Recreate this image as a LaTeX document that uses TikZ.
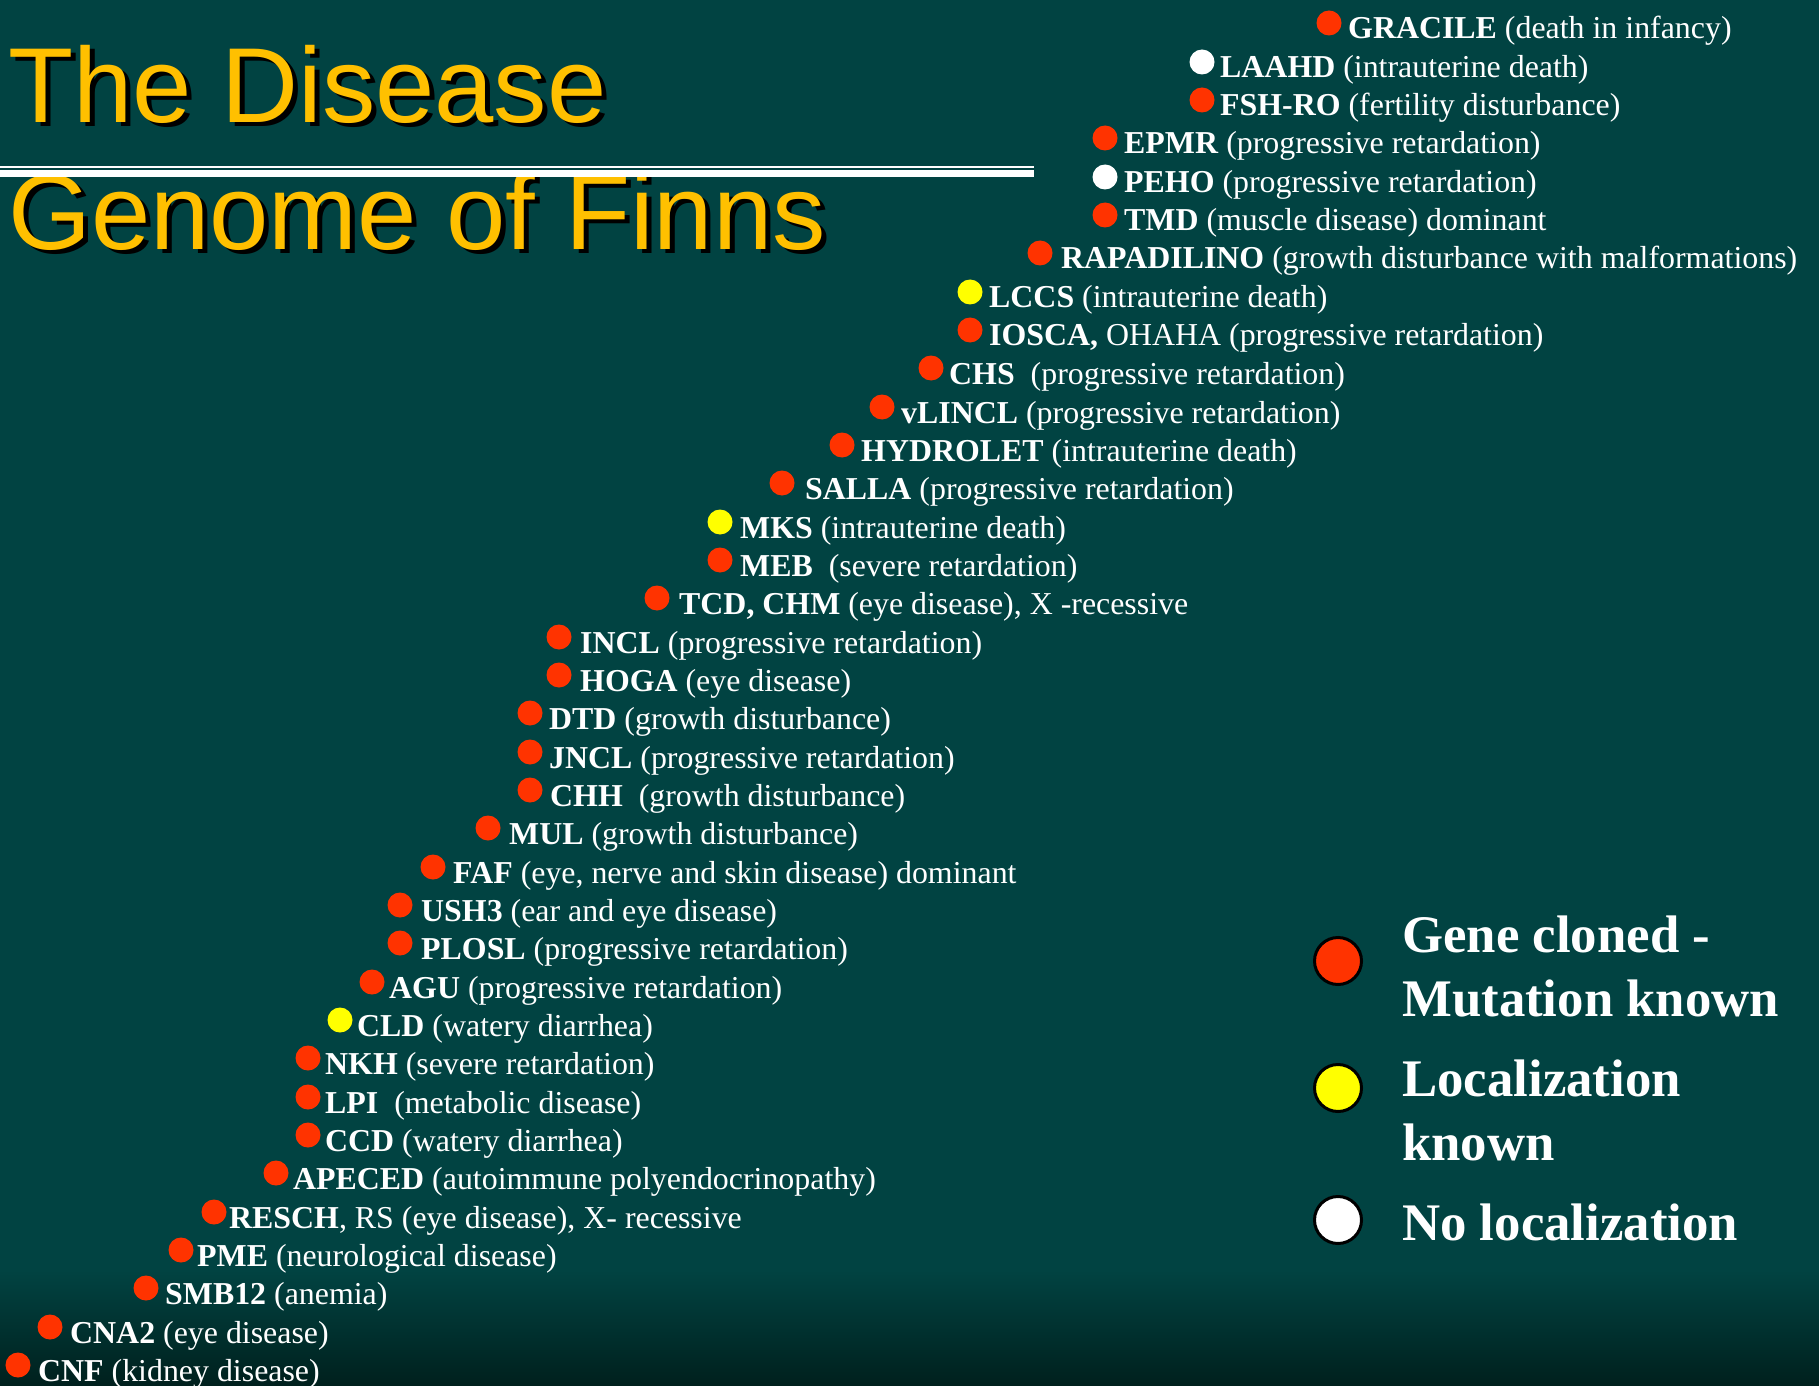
\documentclass[tikz,border=0pt]{standalone}
\usepackage{fontspec}
\setmainfont{Liberation Serif}
\newfontfamily\titlefont{Liberation Sans}
\usepackage{tikz}
\usepackage{xcolor}
\usetikzlibrary{positioning}

\definecolor{slidebg}{RGB}{1,67,66}
\definecolor{slidedark}{RGB}{0,32,29}
\definecolor{titleyellow}{RGB}{255,192,0}
\definecolor{spotred}{RGB}{255,51,0}
\definecolor{spotyellow}{RGB}{255,255,0}

% title line with its black drop shadow
\newcommand{\shadowtitle}[1]{\rlap{\hspace{5bp}\raisebox{-4bp}{\color{black}#1}}#1}

\tikzset{
  redspot/.style={circle, fill=spotred, inner sep=0pt, minimum size=25bp},
  yellowspot/.style={circle, fill=spotyellow, inner sep=0pt, minimum size=25bp},
  whitespot/.style={circle, fill=white, inner sep=0pt, minimum size=25bp},
  entry/.style={anchor=base west, inner sep=0pt, text=white, font=\fontsize{32}{38}\selectfont},
  keyspot/.style={circle, draw=black, line width=3bp, inner sep=0pt, minimum size=47bp},
  keytext/.style={anchor=base west, inner sep=0pt, text=white, font=\fontsize{53}{64}\selectfont\bfseries},
  titletext/.style={anchor=base west, inner sep=0pt, text=titleyellow, font=\titlefont\fontsize{107}{120}\selectfont},
}

\begin{document}
\begin{tikzpicture}[x=1bp, y=-1bp]
    \useasboundingbox (0,0) rectangle (1819,1386);

    % Slide background
    \fill[slidebg] (0,0) rectangle (1819,1386);
    \shade[top color=slidebg, bottom color=slidedark] (0,1270) rectangle (1819,1386);

    % Title with drop shadow
    \node[titletext] (title1) at (8,123) {\shadowtitle{The Disease}};
    \node[titletext] (title2) at (8,250) {\shadowtitle{Genome of Finns}};

    % Double rule under the first title line
    \draw[white, line width=2bp] (0,167) -- (1034,167);
    \draw[white, line width=7bp] (0,174) -- (1034,174);

    % Disease list, one row per disease
    \node[redspot] (gracile-dot) at (1329,23) {};
    \node[entry] (gracile) at (1348,39) {\textbf{GRACILE} (death in infancy)};
    \node[whitespot] (laahd-dot) at (1202,62) {};
    \node[entry] (laahd) at (1220,78) {\textbf{LAAHD} (intrauterine death)};
    \node[redspot] (fshro-dot) at (1202,100) {};
    \node[entry] (fshro) at (1220,116) {\textbf{FSH-RO} (fertility disturbance)};
    \node[redspot] (epmr-dot) at (1105,138) {};
    \node[entry] (epmr) at (1124,154) {\textbf{EPMR} (progressive retardation)};
    \node[whitespot] (peho-dot) at (1105,177) {};
    \node[entry] (peho) at (1124,193) {\textbf{PEHO} (progressive retardation)};
    \node[redspot] (tmd-dot) at (1105,215) {};
    \node[entry] (tmd) at (1124,231) {\textbf{TMD} (muscle disease) dominant};
    \node[redspot] (rapadilino-dot) at (1040,253) {};
    \node[entry] (rapadilino) at (1061,269) {\textbf{RAPADILINO} (growth disturbance with malformations)};
    \node[yellowspot] (lccs-dot) at (970,292) {};
    \node[entry] (lccs) at (989,308) {\textbf{LCCS} (intrauterine death)};
    \node[redspot] (iosca-dot) at (970,330) {};
    \node[entry] (iosca) at (989,346) {\textbf{IOSCA,} OHAHA (progressive retardation)};
    \node[redspot] (chs-dot) at (931,368) {};
    \node[entry] (chs) at (949,384) {\textbf{CHS}\ \ (progressive retardation)};
    \node[redspot] (vlincl-dot) at (882,407) {};
    \node[entry] (vlincl) at (901,423) {\textbf{vLINCL} (progressive retardation)};
    \node[redspot] (hydrolet-dot) at (842,445) {};
    \node[entry] (hydrolet) at (861,461) {\textbf{HYDROLET} (intrauterine death)};
    \node[redspot] (salla-dot) at (782,483) {};
    \node[entry] (salla) at (805,499) {\textbf{SALLA} (progressive retardation)};
    \node[yellowspot] (mks-dot) at (720,522) {};
    \node[entry] (mks) at (740,538) {\textbf{MKS} (intrauterine death)};
    \node[redspot] (meb-dot) at (720,560) {};
    \node[entry] (meb) at (740,576) {\textbf{MEB}\ \ (severe retardation)};
    \node[redspot] (tcd-dot) at (657,598) {};
    \node[entry] (tcd) at (679,614) {\textbf{TCD, CHM} (eye disease), X -recessive};
    \node[redspot] (incl-dot) at (559,637) {};
    \node[entry] (incl) at (580,653) {\textbf{INCL} (progressive retardation)};
    \node[redspot] (hoga-dot) at (559,675) {};
    \node[entry] (hoga) at (580,691) {\textbf{HOGA} (eye disease)};
    \node[redspot] (dtd-dot) at (530,713) {};
    \node[entry] (dtd) at (549,729) {\textbf{DTD} (growth disturbance)};
    \node[redspot] (jncl-dot) at (530,752) {};
    \node[entry] (jncl) at (549,768) {\textbf{JNCL} (progressive retardation)};
    \node[redspot] (chh-dot) at (530,790) {};
    \node[entry] (chh) at (550,806) {\textbf{CHH}\ \ (growth disturbance)};
    \node[redspot] (mul-dot) at (488,828) {};
    \node[entry] (mul) at (509,844) {\textbf{MUL} (growth disturbance)};
    \node[redspot] (faf-dot) at (433,867) {};
    \node[entry] (faf) at (453,883) {\textbf{FAF} (eye, nerve and skin disease) dominant};
    \node[redspot] (ush3-dot) at (400,905) {};
    \node[entry] (ush3) at (421,921) {\textbf{USH3} (ear and eye disease)};
    \node[redspot] (plosl-dot) at (400,943) {};
    \node[entry] (plosl) at (421,959) {\textbf{PLOSL} (progressive retardation)};
    \node[redspot] (agu-dot) at (372,982) {};
    \node[entry] (agu) at (389,998) {\textbf{AGU} (progressive retardation)};
    \node[yellowspot] (cld-dot) at (340,1020) {};
    \node[entry] (cld) at (357,1036) {\textbf{CLD} (watery diarrhea)};
    \node[redspot] (nkh-dot) at (308,1058) {};
    \node[entry] (nkh) at (325,1074) {\textbf{NKH} (severe retardation)};
    \node[redspot] (lpi-dot) at (308,1097) {};
    \node[entry] (lpi) at (325,1113) {\textbf{LPI}\ \ (metabolic disease)};
    \node[redspot] (ccd-dot) at (308,1135) {};
    \node[entry] (ccd) at (325,1151) {\textbf{CCD} (watery diarrhea)};
    \node[redspot] (apeced-dot) at (276,1173) {};
    \node[entry] (apeced) at (293,1189) {\textbf{APECED} (autoimmune polyendocrinopathy)};
    \node[redspot] (resch-dot) at (214,1212) {};
    \node[entry] (resch) at (229,1228) {\textbf{RESCH}, RS (eye disease), X- recessive};
    \node[redspot] (pme-dot) at (181,1250) {};
    \node[entry] (pme) at (197,1266) {\textbf{PME} (neurological disease)};
    \node[redspot] (smb12-dot) at (146,1288) {};
    \node[entry] (smb12) at (165,1304) {\textbf{SMB12} (anemia)};
    \node[redspot] (cna2-dot) at (50,1327) {};
    \node[entry] (cna2) at (70,1343) {\textbf{CNA2} (eye disease)};
    \node[redspot] (cnf-dot) at (18,1365) {};
    \node[entry] (cnf) at (38,1381) {\textbf{CNF} (kidney disease)};

    % Legend
    \node[keyspot, fill=spotred] (key-red) at (1338,961) {};
    \node[keytext] (key-red-a) at (1402,952) {Gene cloned -};
    \node[keytext] (key-red-b) at (1402,1016) {Mutation known};
    \node[keyspot, fill=spotyellow] (key-yellow) at (1338,1088) {};
    \node[keytext] (key-yellow-a) at (1402,1096) {Localization};
    \node[keytext] (key-yellow-b) at (1402,1160) {known};
    \node[keyspot, fill=white] (key-white) at (1338,1220) {};
    \node[keytext] (key-white-a) at (1402,1240) {No localization};

\end{tikzpicture}
\end{document}
